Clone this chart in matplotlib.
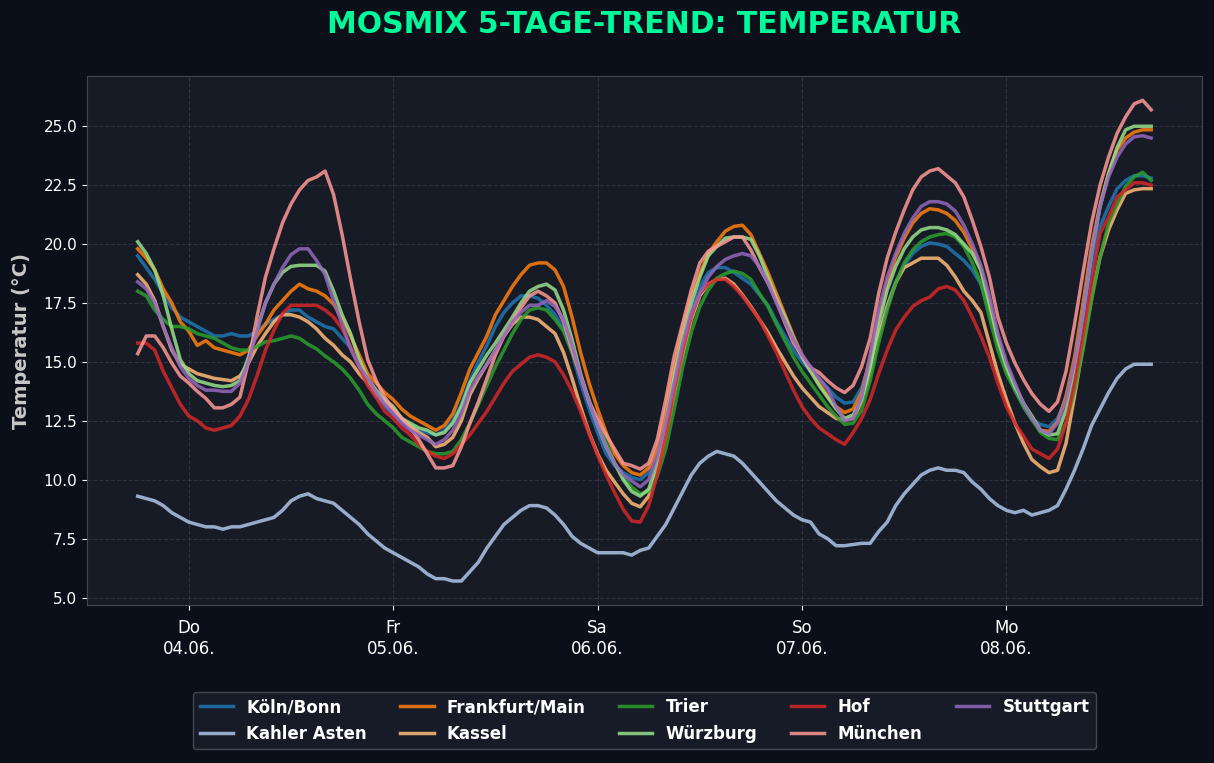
import numpy as np
import pandas as pd
import matplotlib
matplotlib.use("Agg")
import matplotlib.pyplot as plt

# hourly MOSMIX forecast, 03.06. 18:00 -> 08.06. 17:00
times = pd.date_range("2026-06-03 18:00", periods=120, freq="h")

koeln = [
    19.5, 19.0, 18.5, 17.9, 17.3, 16.9, 16.7, 16.5, 16.3, 16.1,
    16.1, 16.2, 16.1, 16.1, 16.3, 16.6, 16.8, 17.0, 17.2, 17.2,
    16.9, 16.7, 16.5, 16.4, 16.0, 15.6, 14.9, 14.1, 13.5, 13.1,
    12.8, 12.5, 12.3, 12.1, 12.0, 11.9, 12.1, 12.5, 13.2, 14.2,
    15.0, 15.7, 16.5, 17.1, 17.5, 17.8, 17.8, 17.7, 17.4, 17.0,
    16.4, 15.4, 14.1, 13.0, 12.0, 11.1, 10.6, 10.3, 10.1, 10.0,
    10.3, 11.3, 12.7, 14.4, 15.9, 17.2, 18.2, 18.8, 19.0, 19.0,
    18.8, 18.55, 18.3, 17.85, 17.4, 16.7, 16.1, 15.5, 15.0, 14.6,
    14.3, 13.9, 13.5, 13.25, 13.3, 13.9, 15.0, 16.3, 17.4, 18.4,
    19.1, 19.6, 19.9, 20.05, 20.0, 19.9, 19.6, 19.3, 18.9, 18.3,
    17.2, 15.8, 14.65, 13.8, 13.1, 12.55, 12.35, 12.25, 12.6, 13.4,
    14.8, 16.65, 18.9, 20.75, 21.6, 22.35, 22.7, 22.9, 22.9, 22.8,
]
kahler_asten = [
    9.3, 9.2, 9.1, 8.9, 8.6, 8.4, 8.2, 8.1, 8.0, 8.0,
    7.9, 8.0, 8.0, 8.1, 8.2, 8.3, 8.4, 8.7, 9.1, 9.3,
    9.4, 9.2, 9.1, 9.0, 8.7, 8.4, 8.1, 7.7, 7.4, 7.1,
    6.9, 6.7, 6.5, 6.3, 6.0, 5.8, 5.8, 5.7, 5.7, 6.1,
    6.5, 7.1, 7.6, 8.1, 8.4, 8.7, 8.9, 8.9, 8.8, 8.5,
    8.1, 7.6, 7.3, 7.1, 6.9, 6.9, 6.9, 6.9, 6.8, 7.0,
    7.1, 7.6, 8.1, 8.8, 9.5, 10.2, 10.7, 11.0, 11.2, 11.1,
    11.0, 10.7, 10.3, 9.9, 9.5, 9.1, 8.8, 8.5, 8.3, 8.2,
    7.7, 7.5, 7.2, 7.2, 7.25, 7.3, 7.3, 7.8, 8.2, 8.9,
    9.4, 9.8, 10.2, 10.4, 10.5, 10.4, 10.4, 10.3, 9.9, 9.6,
    9.2, 8.9, 8.7, 8.6, 8.7, 8.5, 8.6, 8.7, 8.9, 9.6,
    10.4, 11.3, 12.3, 13.0, 13.7, 14.3, 14.7, 14.9, 14.9, 14.9,
]
frankfurt = [
    19.8, 19.4, 18.9, 18.1, 17.5, 16.7, 16.3, 15.7, 15.9, 15.6,
    15.5, 15.4, 15.3, 15.5, 16.1, 16.6, 17.2, 17.6, 18.0, 18.3,
    18.1, 18.0, 17.8, 17.45, 16.85, 16.1, 15.3, 14.5, 14.1, 13.7,
    13.4, 13.0, 12.7, 12.5, 12.3, 12.1, 12.3, 12.8, 13.7, 14.7,
    15.4, 16.1, 17.0, 17.6, 18.2, 18.7, 19.1, 19.2, 19.2, 18.9,
    18.2, 16.9, 15.4, 14.1, 13.0, 12.0, 11.1, 10.6, 10.3, 10.2,
    10.5, 11.3, 13.0, 14.8, 16.5, 17.8, 18.75, 19.6, 20.1, 20.55,
    20.75, 20.8, 20.4, 19.6, 18.8, 17.9, 17.0, 16.1, 15.3, 14.7,
    14.1, 13.55, 13.1, 12.85, 13.0, 13.7, 15.2, 16.9, 18.35, 19.45,
    20.25, 20.9, 21.3, 21.5, 21.45, 21.3, 21.0, 20.5, 19.8, 18.9,
    17.4, 15.95, 14.8, 13.95, 13.25, 12.6, 12.1, 12.05, 12.45, 13.55,
    15.2, 17.5, 19.9, 21.7, 23.0, 24.0, 24.5, 24.75, 24.85, 24.85,
]
kassel = [
    18.7, 18.3, 17.6, 16.5, 15.5, 14.9, 14.7, 14.5, 14.4, 14.3,
    14.25, 14.2, 14.4, 14.95, 15.65, 16.2, 16.7, 17.0, 17.0, 16.9,
    16.7, 16.4, 16.0, 15.7, 15.3, 15.0, 14.5, 14.1, 13.6, 13.3,
    13.0, 12.6, 12.3, 12.0, 11.8, 11.4, 11.5, 11.8, 12.5, 13.6,
    14.3, 14.9, 15.5, 16.1, 16.6, 16.9, 16.9, 16.8, 16.5, 16.2,
    15.4, 14.3, 13.1, 12.0, 11.1, 10.4, 9.9, 9.4, 9.0, 8.85,
    9.3, 10.3, 11.8, 13.6, 15.3, 16.8, 17.8, 18.3, 18.5, 18.55,
    18.3, 17.85, 17.35, 16.8, 16.25, 15.6, 15.0, 14.4, 13.9, 13.5,
    13.1, 12.85, 12.6, 12.55, 12.6, 13.3, 14.5, 16.1, 17.35, 18.35,
    19.0, 19.2, 19.4, 19.4, 19.4, 19.1, 18.6, 18.0, 17.6, 17.1,
    15.8, 14.5, 13.4, 12.4, 11.55, 10.85, 10.55, 10.3, 10.4, 11.55,
    13.55, 15.65, 17.75, 19.45, 20.6, 21.45, 22.15, 22.3, 22.35, 22.35,
]
trier = [
    18.0, 17.8, 17.2, 16.8, 16.5, 16.5, 16.4, 16.2, 16.1, 16.0,
    15.8, 15.6, 15.5, 15.5, 15.65, 15.85, 15.9, 16.0, 16.1, 16.0,
    15.75, 15.55, 15.25, 15.0, 14.7, 14.3, 13.8, 13.2, 12.8, 12.5,
    12.2, 11.8, 11.6, 11.4, 11.2, 11.1, 11.1, 11.2, 11.7, 12.4,
    13.2, 14.0, 14.8, 15.5, 16.2, 16.8, 17.2, 17.3, 17.2, 16.8,
    16.3, 15.4, 14.4, 13.4, 12.4, 11.6, 10.7, 10.1, 9.7, 9.4,
    9.5, 10.15, 11.3, 13.0, 14.8, 16.25, 17.35, 18.05, 18.55, 18.75,
    18.85, 18.75, 18.5, 17.9, 17.35, 16.6, 15.9, 15.2, 14.6, 14.1,
    13.6, 13.1, 12.7, 12.35, 12.4, 12.95, 14.2, 15.8, 17.2, 18.35,
    19.2, 19.75, 20.1, 20.3, 20.4, 20.45, 20.3, 19.9, 19.2, 18.35,
    16.9, 15.5, 14.5, 13.8, 13.1, 12.55, 12.0, 11.75, 11.7, 12.4,
    13.8, 15.5, 17.6, 19.45, 20.9, 21.7, 22.45, 22.85, 23.05, 22.7,
]
wuerzburg = [
    20.1, 19.6, 18.9, 17.8, 16.4, 15.1, 14.5, 14.2, 14.1, 14.0,
    13.95, 14.0, 14.2, 15.2, 16.4, 17.5, 18.3, 18.8, 19.05, 19.1,
    19.1, 19.1, 18.85, 18.0, 17.0, 16.2, 15.1, 14.3, 13.8, 13.4,
    13.1, 12.6, 12.4, 12.2, 12.1, 11.9, 12.0, 12.4, 13.1, 14.1,
    14.7, 15.3, 15.8, 16.35, 16.9, 17.5, 18.0, 18.2, 18.3, 18.05,
    17.2, 15.95, 14.5, 13.3, 12.3, 11.4, 10.7, 10.0, 9.5, 9.3,
    9.6, 10.7, 12.4, 14.4, 16.1, 17.5, 18.6, 19.5, 19.9, 20.25,
    20.3, 20.3, 20.2, 19.5, 18.6, 17.7, 16.9, 16.0, 15.2, 14.6,
    14.0, 13.5, 13.0, 12.6, 12.75, 13.4, 14.8, 16.65, 18.05, 19.05,
    19.8, 20.3, 20.6, 20.7, 20.7, 20.6, 20.4, 20.0, 19.6, 18.9,
    17.5, 15.95, 14.8, 13.95, 13.25, 12.7, 12.1, 11.9, 11.95, 12.95,
    14.65, 17.05, 19.6, 21.6, 23.0, 24.1, 24.85, 25.0, 25.0, 25.0,
]
hof = [
    15.8, 15.8, 15.5, 14.6, 13.9, 13.2, 12.7, 12.5, 12.2, 12.1,
    12.2, 12.3, 12.7, 13.4, 14.4, 15.5, 16.35, 17.05, 17.4, 17.4,
    17.4, 17.4, 17.2, 16.9, 16.4, 15.65, 14.8, 14.0, 13.5, 12.9,
    12.6, 12.2, 11.9, 11.5, 11.2, 11.0, 10.9, 11.1, 11.5, 11.9,
    12.4, 12.9, 13.5, 14.1, 14.6, 14.9, 15.2, 15.3, 15.2, 15.0,
    14.45, 13.75, 12.9, 11.95, 11.05, 10.2, 9.45, 8.75, 8.25, 8.2,
    8.9, 10.2, 11.85, 13.8, 15.5, 16.95, 17.9, 18.3, 18.5, 18.5,
    18.2, 17.8, 17.3, 16.8, 16.1, 15.4, 14.6, 13.8, 13.1, 12.6,
    12.2, 11.95, 11.7, 11.5, 12.0, 12.6, 13.4, 14.5, 15.5, 16.35,
    16.9, 17.35, 17.6, 17.75, 18.1, 18.2, 18.05, 17.6, 16.9, 16.1,
    15.2, 14.1, 13.1, 12.4, 11.85, 11.3, 11.1, 10.9, 11.3, 12.4,
    14.1, 16.1, 18.35, 20.45, 21.15, 22.0, 22.3, 22.6, 22.6, 22.5,
]
muenchen = [
    15.35, 16.1, 16.1, 15.6, 14.95, 14.4, 14.1, 13.75, 13.45, 13.05,
    13.05, 13.2, 13.5, 15.0, 16.9, 18.6, 19.8, 20.9, 21.7, 22.3,
    22.7, 22.85, 23.1, 22.1, 20.4, 18.5, 16.7, 15.1, 14.2, 13.5,
    13.0, 12.6, 12.2, 11.7, 11.1, 10.5, 10.5, 10.6, 11.4, 12.4,
    13.3, 14.3, 15.3, 16.1, 16.7, 17.3, 17.8, 18.0, 17.8, 17.5,
    16.7, 15.5, 14.4, 13.3, 12.6, 11.9, 11.3, 10.7, 10.6, 10.45,
    10.7, 11.7, 13.4, 15.25, 16.65, 18.05, 19.2, 19.7, 19.9, 20.1,
    20.3, 20.3, 19.75, 19.0, 18.35, 17.6, 16.65, 15.8, 15.25, 14.75,
    14.55, 14.2, 13.9, 13.7, 14.0, 14.8, 16.0, 17.9, 19.4, 20.5,
    21.45, 22.3, 22.85, 23.1, 23.2, 22.9, 22.6, 22.0, 21.0, 19.9,
    18.6, 16.9, 15.8, 14.95, 14.25, 13.65, 13.2, 12.9, 13.3, 14.6,
    16.6, 18.8, 20.9, 22.5, 23.7, 24.7, 25.4, 25.95, 26.1, 25.7,
]
stuttgart = [
    18.4, 18.1, 17.5, 16.5, 15.6, 14.8, 14.3, 14.0, 13.8, 13.8,
    13.75, 13.75, 14.1, 15.0, 16.3, 17.5, 18.3, 19.0, 19.55, 19.8,
    19.8, 19.3, 18.7, 17.6, 16.6, 15.55, 14.8, 14.3, 13.7, 13.2,
    12.8, 12.4, 12.1, 11.9, 11.7, 11.5, 11.7, 12.1, 12.8, 13.8,
    14.4, 14.9, 15.5, 16.1, 16.7, 17.1, 17.4, 17.4, 17.6, 17.35,
    16.8, 15.7, 14.4, 13.3, 12.3, 11.4, 10.7, 10.2, 9.95, 9.7,
    10.0, 11.0, 12.4, 14.1, 15.8, 17.1, 17.9, 18.6, 19.05, 19.35,
    19.5, 19.6, 19.5, 19.05, 18.35, 17.5, 16.7, 15.95, 15.3, 14.8,
    14.3, 13.85, 13.1, 12.5, 12.6, 13.5, 15.3, 17.2, 18.6, 19.6,
    20.45, 21.1, 21.6, 21.8, 21.8, 21.7, 21.4, 20.8, 20.0, 19.1,
    17.8, 16.2, 15.0, 14.1, 13.25, 12.6, 12.1, 11.95, 12.4, 13.4,
    14.95, 17.05, 19.6, 21.6, 22.85, 23.7, 24.25, 24.55, 24.6, 24.5,
]

stations = ["Köln/Bonn", "Kahler Asten", "Frankfurt/Main", "Kassel", "Trier",
            "Würzburg", "Hof", "München", "Stuttgart"]
series = [koeln, kahler_asten, frankfurt, kassel, trier,
          wuerzburg, hof, muenchen, stuttgart]

tick_days = pd.date_range("2026-06-04", periods=5, freq="D")
tick_labels = ["Do\n04.06.", "Fr\n05.06.", "Sa\n06.06.", "So\n07.06.", "Mo\n08.06."]

fig_bg = "#0b0f19"
ax_bg = "#171b26"
colors = plt.get_cmap("tab20").colors

fig = plt.figure(figsize=(12.14, 7.63), dpi=100, facecolor=fig_bg)
ax = fig.add_axes([0.0717, 0.207, 0.9183, 0.693])
ax.set_facecolor(ax_bg)

for i, (name, vals) in enumerate(zip(stations, series)):
    ax.plot(times, vals, color=colors[i], lw=2.5, alpha=0.85, label=name)

ax.set_title("MOSMIX 5-TAGE-TREND: TEMPERATUR", color="#00fa9a",
             fontsize=21.5, fontweight="bold", pad=31)
ax.set_ylabel("Temperatur (°C)", color="#c8c8c8", fontsize=14,
              fontweight="bold", labelpad=9)

ax.set_yticks(np.arange(5, 25.1, 2.5))
ax.yaxis.set_major_formatter(plt.FormatStrFormatter("%.1f"))
ax.set_xticks(tick_days)
ax.set_xticklabels(tick_labels)
ax.tick_params(colors="white", labelsize=11)
ax.tick_params(axis="x", labelsize=12, pad=6.5)

ax.grid(True, linestyle="--", color="#4a4f5c", alpha=0.45, linewidth=0.8)
for sp in ax.spines.values():
    sp.set_color("#44474f")

leg = ax.legend(loc="upper center", bbox_to_anchor=(0.5, -0.148), ncol=5,
                facecolor="#161b27", edgecolor="#44474f", fontsize=12,
                framealpha=1.0)
for t in leg.get_texts():
    t.set_color("white")
    t.set_fontweight("bold")

fig.savefig("out.png", dpi=100, facecolor=fig_bg)
